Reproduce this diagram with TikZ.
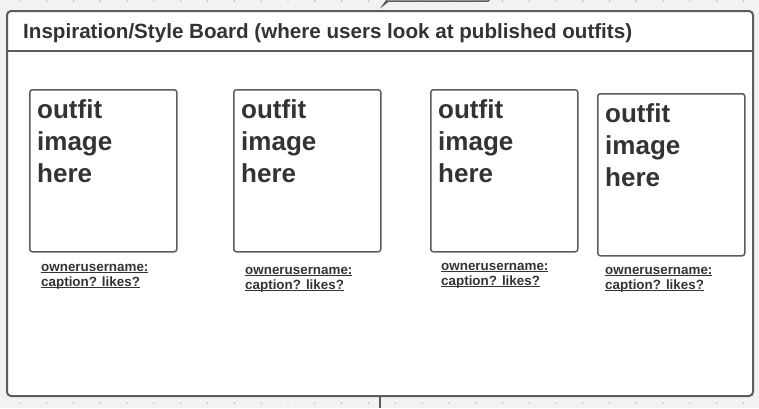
\documentclass[tikz,border=0pt]{standalone}
\usepackage{fontspec}
\setmainfont{Liberation Sans}
\definecolor{canvas}{HTML}{F1F2F4}
\definecolor{edge}{HTML}{5C5C5C}
\definecolor{ink}{HTML}{333333}
\definecolor{griddot}{HTML}{9A9CA0}
\newcommand\lblline[1]{\setbox0\hbox{#1}\rlap{\rule[-1.7pt]{\wd0}{0.9pt}}\box0}
\begin{document}
\begin{tikzpicture}[x=1pt,y=-1pt]
        \tikzstyle{board}=[draw=edge,line width=2pt,rounded corners=4pt,fill=white,minimum width=746pt,minimum height=385pt,inner sep=0pt,anchor=north west]
        \tikzstyle{outfitbox}=[draw=edge,line width=1.5pt,rounded corners=2.5pt,fill=white,minimum width=147pt,minimum height=162pt,inner sep=0pt,anchor=north west]
        \tikzstyle{imgtext}=[text=ink,font=\fontsize{26}{32}\selectfont\bfseries,align=left,inner sep=0pt,anchor=base west]
        \tikzstyle{lbl}=[text=ink,font=\fontsize{13.4}{15}\selectfont\bfseries,align=left,inner sep=0pt,anchor=base west]

        \useasboundingbox (0,0) rectangle (759,408);
        \fill[canvas] (0,0) rectangle (759,408);
        \foreach \i in {0,...,28} {
            \foreach \j in {0,...,15} {
                \fill[griddot] (20+\i*26.8,1+\j*26.8) circle (0.7pt);
            }
        }

        % board frame and its header
        \node[board] (frame) at (6,10) {};
        \coordinate (hl) at (6,51);
        \coordinate (hr) at (752,51);
        \draw[edge,line width=1.5pt] (hl) -- (hr);
        \node[text=ink,font=\fontsize{20.6}{22}\selectfont\bfseries,inner sep=0pt,anchor=base west] (title) at (23,38) {Inspiration/Style Board (where users look at published outfits)};

        % bits of the neighbouring shapes
        \coordinate (up1) at (386,1);
        \coordinate (up2) at (488,1);
        \draw[edge,line width=1.5pt] (up1) -- (up2) -- ++(2,-2);
        \fill[edge] (380,8.5) -- (386,0) -- (389,1.5) -- cycle;
        \coordinate (down) at (380,408);
        \draw[edge,line width=1.5pt] (frame.south) -- (down);

        % outfit cards
        \node[outfitbox] (b1) at (29,89) {};
        \node[outfitbox] (b2) at (233,89) {};
        \node[outfitbox] (b3) at (430,89) {};
        \node[outfitbox] (b4) at (597,93) {};

        % last baseline of each text
        \node[imgtext] (t1) at (37,182) {outfit\\image\\here};
        \node[imgtext] (t2) at (241,182) {outfit\\image\\here};
        \node[imgtext] (t3) at (438,182) {outfit\\image\\here};
        \node[imgtext] (t4) at (605,186) {outfit\\image\\here};

        \node[lbl] (l1) at (41,286) {\lblline{ownerusername:}\\\lblline{caption? likes?}};
        \node[lbl] (l2) at (245,289) {\lblline{ownerusername:}\\\lblline{caption? likes?}};
        \node[lbl] (l3) at (441,285) {\lblline{ownerusername:}\\\lblline{caption? likes?}};
        \node[lbl] (l4) at (605,289) {\lblline{ownerusername:}\\\lblline{caption? likes?}};

    \end{tikzpicture}
\end{document}
